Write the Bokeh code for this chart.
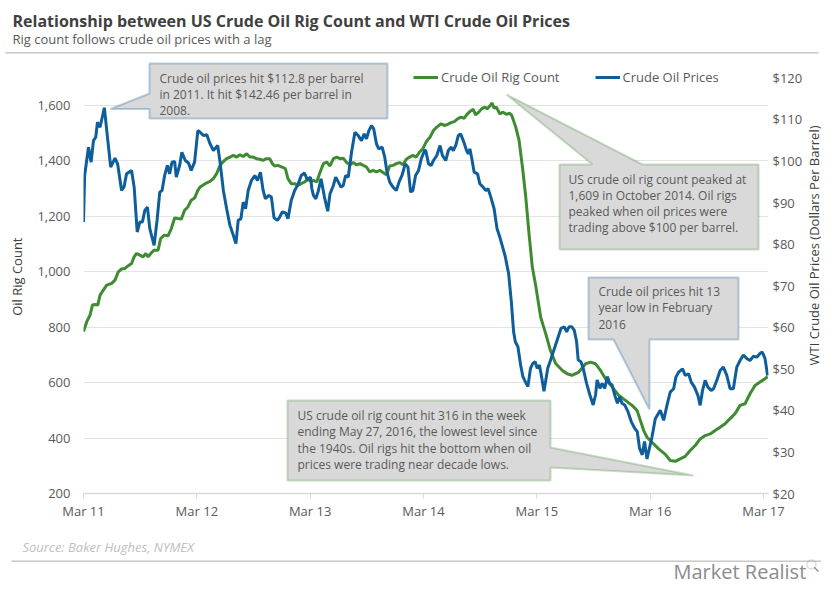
import math
from bokeh.plotting import figure
from bokeh.layouts import column, row
from bokeh.models import (Range1d, LinearAxis, FixedTicker, NumeralTickFormatter,
                          Label, PolyAnnotation, Legend, LegendItem)
from bokeh.embed import file_html
from bokeh.resources import INLINE

# ---------------- data ----------------
# x = years since March 2011
x_tick_values = [0, 1, 2, 3, 4, 5, 6]
x_tick_labels = ["Mar 11", "Mar 12", "Mar 13", "Mar 14", "Mar 15", "Mar 16", "Mar 17"]
rig_ticks = [200, 400, 600, 800, 1000, 1200, 1400, 1600]
price_ticks = [20, 30, 40, 50, 60, 70, 80, 90, 100, 110, 120]

rig_t = [0.000, 0.029, 0.058, 0.079, 0.100, 0.126, 0.146, 0.175, 0.205, 0.249, 0.278, 0.307,
         0.336, 0.365, 0.395, 0.424, 0.447, 0.468, 0.497, 0.526, 0.550, 0.570, 0.594, 0.623,
         0.658, 0.681, 0.711, 0.746, 0.775, 0.804, 0.833, 0.863, 0.892, 0.921, 0.950, 0.980,
         1.009, 1.029, 1.073, 1.117, 1.146, 1.175, 1.205, 1.234, 1.263, 1.292, 1.322, 1.351,
         1.380, 1.409, 1.439, 1.468, 1.497, 1.526, 1.556, 1.585, 1.614, 1.643, 1.667, 1.687,
         1.716, 1.751, 1.781, 1.804, 1.833, 1.863, 1.892, 1.921, 1.950, 1.980, 2.009, 2.029,
         2.058, 2.088, 2.117, 2.146, 2.175, 2.205, 2.234, 2.263, 2.292, 2.322, 2.351, 2.380,
         2.409, 2.439, 2.468, 2.497, 2.526, 2.556, 2.585, 2.614, 2.643, 2.673, 2.702, 2.731,
         2.760, 2.789, 2.819, 2.848, 2.877, 2.906, 2.936, 2.965, 2.994, 3.023, 3.044, 3.058,
         3.088, 3.117, 3.155, 3.184, 3.213, 3.243, 3.272, 3.301, 3.330, 3.360, 3.380, 3.409,
         3.439, 3.459, 3.488, 3.512, 3.541, 3.561, 3.585, 3.605, 3.623, 3.643, 3.673, 3.702,
         3.731, 3.760, 3.778, 3.814, 3.843, 3.873, 3.902, 3.931, 3.960, 3.990, 4.034, 4.078,
         4.120, 4.166, 4.225, 4.268, 4.310, 4.370, 4.430, 4.474, 4.518, 4.562, 4.606, 4.665,
         4.723, 4.782, 4.840, 4.884, 4.913, 4.943, 4.972, 5.016, 5.075, 5.134, 5.177, 5.221,
         5.265, 5.309, 5.353, 5.397, 5.441, 5.485, 5.530, 5.573, 5.617, 5.661, 5.705, 5.749,
         5.793, 5.837, 5.881, 5.925, 5.969, 6.013, 6.036]
rig_count = [784, 820, 844, 880, 882, 880, 916, 934, 952, 958, 970, 1000,
             1010, 1012, 1022, 1030, 1054, 1066, 1060, 1054, 1066, 1054, 1066, 1078,
             1078, 1120, 1132, 1130, 1156, 1194, 1192, 1190, 1222, 1234, 1258, 1266,
             1294, 1306, 1318, 1326, 1336, 1354, 1384, 1398, 1408, 1414, 1420, 1414,
             1422, 1416, 1426, 1414, 1414, 1408, 1406, 1402, 1408, 1408, 1390, 1382,
             1384, 1378, 1372, 1336, 1318, 1318, 1312, 1318, 1324, 1334, 1326, 1330,
             1324, 1360, 1390, 1396, 1382, 1408, 1414, 1408, 1410, 1394, 1386, 1394,
             1386, 1390, 1384, 1378, 1360, 1366, 1360, 1366, 1358, 1350, 1382, 1384,
             1390, 1394, 1386, 1406, 1414, 1420, 1414, 1432, 1444, 1468, 1480, 1486,
             1510, 1522, 1534, 1528, 1532, 1538, 1542, 1552, 1558, 1554, 1566, 1578,
             1586, 1566, 1576, 1588, 1594, 1588, 1598, 1609, 1590, 1594, 1570, 1576,
             1568, 1572, 1565, 1522, 1474, 1378, 1270, 1138, 1017, 950, 836, 777,
             716, 669, 644, 632, 626, 638, 668, 674, 668, 644, 614, 584,
             554, 536, 518, 500, 464, 427, 403, 385, 361, 341, 319, 316,
             325, 334, 355, 373, 397, 409, 415, 427, 439, 452, 470, 488,
             518, 524, 560, 590, 602, 614, 622]

price_t = [0.000, 0.010, 0.044, 0.067, 0.088, 0.108, 0.123, 0.146, 0.184, 0.213, 0.240, 0.278,
           0.301, 0.336, 0.357, 0.380, 0.424, 0.447, 0.474, 0.497, 0.520, 0.541, 0.564, 0.585,
           0.623, 0.649, 0.673, 0.693, 0.716, 0.740, 0.760, 0.781, 0.804, 0.819, 0.848, 0.868,
           0.898, 0.927, 0.950, 0.980, 1.009, 1.029, 1.058, 1.088, 1.117, 1.146, 1.184, 1.205,
           1.234, 1.263, 1.292, 1.322, 1.345, 1.365, 1.389, 1.409, 1.430, 1.453, 1.482, 1.512,
           1.535, 1.561, 1.585, 1.605, 1.635, 1.658, 1.681, 1.711, 1.731, 1.754, 1.784, 1.804,
           1.833, 1.863, 1.892, 1.921, 1.950, 1.974, 2.003, 2.015, 2.029, 2.050, 2.073, 2.096,
           2.126, 2.155, 2.175, 2.205, 2.225, 2.249, 2.272, 2.292, 2.313, 2.336, 2.365, 2.395,
           2.424, 2.453, 2.477, 2.497, 2.518, 2.541, 2.561, 2.585, 2.605, 2.635, 2.658, 2.678,
           2.702, 2.731, 2.760, 2.784, 2.810, 2.839, 2.863, 2.886, 2.906, 2.930, 2.956, 2.980,
           3.009, 3.020, 3.044, 3.067, 3.088, 3.117, 3.146, 3.167, 3.196, 3.219, 3.243, 3.263,
           3.284, 3.307, 3.327, 3.351, 3.380, 3.395, 3.409, 3.424, 3.447, 3.477, 3.497, 3.526,
           3.550, 3.570, 3.594, 3.623, 3.649, 3.673, 3.702, 3.722, 3.751, 3.775, 3.795, 3.810,
           3.833, 3.857, 3.877, 3.898, 3.921, 3.944, 3.965, 3.985, 4.003, 4.023, 4.044, 4.063,
           4.096, 4.126, 4.155, 4.184, 4.213, 4.243, 4.263, 4.284, 4.307, 4.330, 4.351, 4.365,
           4.389, 4.409, 4.439, 4.468, 4.497, 4.518, 4.532, 4.556, 4.576, 4.599, 4.623, 4.643,
           4.664, 4.687, 4.711, 4.731, 4.751, 4.775, 4.804, 4.833, 4.863, 4.886, 4.906, 4.930,
           4.950, 4.972, 5.016, 5.045, 5.089, 5.119, 5.148, 5.177, 5.207, 5.227, 5.251, 5.286,
           5.309, 5.339, 5.362, 5.391, 5.421, 5.441, 5.462, 5.485, 5.509, 5.538, 5.559, 5.588,
           5.617, 5.646, 5.676, 5.705, 5.734, 5.764, 5.793, 5.822, 5.852, 5.881, 5.910, 5.940,
           5.969, 5.989, 6.013, 6.036]
oil_price = [85.3, 96.5, 103.3, 99.7, 104.9, 105.7, 109.3, 108.1, 112.8, 105.3, 98.5, 100.7,
             99.3, 92.9, 93.7, 96.9, 97.7, 93.7, 82.9, 85.3, 85.3, 88.1, 88.9, 83.7,
             79.7, 85.7, 92.5, 92.9, 96.5, 98.9, 96.9, 99.7, 99.9, 96.1, 98.9, 102.1,
             100.1, 99.5, 97.7, 99.7, 107.3, 106.9, 106.1, 106.3, 104.1, 102.5, 103.7, 99.7,
             92.9, 88.5, 84.5, 82.1, 80.1, 85.7, 86.1, 90.1, 88.5, 92.9, 95.3, 96.5,
             95.3, 97.3, 92.9, 90.9, 91.7, 91.3, 86.3, 85.7, 86.5, 87.7, 87.5, 86.1,
             90.5, 92.9, 94.3, 96.5, 97.1, 95.5, 96.1, 93.3, 91.7, 90.9, 92.9, 95.7,
             91.3, 87.9, 92.1, 94.1, 96.1, 94.9, 93.7, 94.1, 96.5, 96.1, 102.1, 106.9,
             106.1, 104.9, 106.5, 105.3, 107.3, 108.5, 107.7, 104.1, 102.9, 103.3, 100.9, 97.3,
             94.9, 93.7, 92.9, 94.9, 96.5, 99.3, 98.5, 92.5, 92.9, 96.5, 97.7, 100.5,
             102.5, 102.5, 99.3, 98.9, 100.1, 101.3, 103.7, 101.3, 100.1, 102.5, 103.3, 102.5,
             103.7, 106.1, 106.5, 104.9, 102.5, 101.7, 102.9, 100.9, 97.3, 96.9, 94.5, 93.7,
             92.9, 93.3, 91.3, 88.5, 83.7, 81.7, 78.9, 76.9, 72.9, 66.1, 58.9, 56.5,
             55.3, 50.9, 48.1, 46.9, 45.7, 50.1, 51.3, 51.7, 50.1, 50.9, 47.7, 44.6,
             50.1, 52.5, 54.9, 57.3, 59.7, 60.1, 58.9, 60.1, 60.1, 59.3, 56.5, 52.1,
             51.7, 50.1, 46.5, 43.7, 41.3, 43.7, 47.3, 45.3, 46.5, 45.3, 48.1, 46.5,
             46.1, 43.7, 41.7, 43.3, 41.7, 41.3, 39.7, 37.3, 35.7, 34.9, 30.9, 29.3,
             32.5, 28.3, 33.6, 38.0, 40.0, 37.6, 41.2, 44.4, 45.2, 48.0, 49.2, 50.0,
             48.4, 48.8, 46.8, 45.6, 43.6, 41.2, 44.8, 47.2, 45.6, 44.8, 45.2, 47.2,
             49.6, 50.4, 48.4, 45.2, 45.2, 50.4, 52.0, 53.3, 52.5, 52.0, 53.0, 52.8,
             53.7, 54.0, 52.5, 48.4]

# ---------------- styling ----------------
FONT = "Open Sans"
GREEN = "#3f8b32"
BLUE = "#0d5e9b"
BOX_BLUE = "#1c5f9c"
BOX_GREEN = "#4c9640"
BOX_FILL = "#d9d9d9"
TXT = "#595959"
DARK = "#404040"
SEP = "#c8c8c8"
LOGO = "#8c8c8c"
TEXT_DY = 3.5        # alphabetic-baseline correction (page px)

W = 821
HEAD_H = 56          # page y 0..56
MAIN_H = 477         # page y 56..533
FOOT_H = 584 - HEAD_H - MAIN_H
SIDE_W = 16
MAIN_W = W - SIDE_W

# main frame: page x 83..770, y 56..493
FL, FR, FT, FB = 83, 770, 56, 493
PX_PER_RIG = 388.0 / 1400.0
rig_top = 200 + (FB - FT) / PX_PER_RIG
price_top = 20 + (rig_top - 200) / 15.0


def blank(width, height):
    f = figure(width=width, height=height, output_backend="svg", toolbar_location=None,
               title=None, x_axis_location=None, y_axis_location=None,
               x_range=Range1d(0, 1), y_range=Range1d(0, 1),
               min_border=0, min_border_left=0, min_border_right=0,
               min_border_top=0, min_border_bottom=0)
    f.outline_line_color = None
    f.xgrid.visible = False
    f.ygrid.visible = False
    return f


def add_text(fig, x, y, s, size="12px", color=TXT, style="normal", align="left",
             baseline="alphabetic", angle=0):
    if baseline == "alphabetic":
        y = y + TEXT_DY
    fig.add_layout(Label(x=x, y=y, x_units="screen", y_units="screen", text=s,
                         text_font=FONT, text_font_size=size, text_color=color,
                         text_font_style=style, text_align=align,
                         text_baseline=baseline, angle=angle, angle_units="deg"))


def add_poly(fig, xs, ys, fill, line, lw=2, fill_alpha=1):
    fig.add_layout(PolyAnnotation(xs=xs, ys=ys, xs_units="screen", ys_units="screen",
                                  fill_color=fill, fill_alpha=fill_alpha, line_color=line,
                                  line_width=lw))


# ---------------- header ----------------
head = blank(W, HEAD_H)
add_text(head, 12, HEAD_H - 23.5,
         "Relationship between US Crude Oil Rig Count and WTI Crude Oil Prices",
         size="16px", color=DARK, style="bold")
add_text(head, 12, HEAD_H - 42, "Rig count follows crude oil prices with a lag",
         size="13px", color=TXT)
add_poly(head, [5, 818, 818, 5], [HEAD_H - 51.5, HEAD_H - 51.5, HEAD_H - 53, HEAD_H - 53],
         SEP, None, 0)

# ---------------- main chart ----------------
p = figure(width=MAIN_W, height=MAIN_H, output_backend="svg", toolbar_location=None,
           title=None, x_range=Range1d(0, 6.044), y_range=Range1d(200, rig_top),
           min_border_left=FL, min_border_right=MAIN_W - FR, min_border_top=0,
           min_border_bottom=MAIN_H - (FB - FT))
p.extra_y_ranges = {"price": Range1d(20, price_top)}
p.outline_line_color = None


def sx(X):
    return X - FL


def sy(Y):
    return FB - Y


xa = p.xaxis[0]
xa.ticker = FixedTicker(ticks=x_tick_values)
xa.major_label_overrides = {v: lab for v, lab in zip(x_tick_values, x_tick_labels)}
xa.axis_line_color = "#d9d9d9"
xa.axis_line_width = 1.5
xa.major_tick_line_color = "#d9d9d9"
xa.major_tick_in = 0
xa.major_tick_out = 5
xa.minor_tick_line_color = None
xa.minor_tick_out = 0
xa.major_label_text_font = FONT
xa.major_label_text_font_size = "13px"
xa.major_label_text_color = TXT
xa.major_label_standoff = 3

ya = p.yaxis[0]
ya.ticker = FixedTicker(ticks=rig_ticks)
ya.formatter = NumeralTickFormatter(format="0,0")
ya.axis_line_color = None
ya.major_tick_line_color = None
ya.minor_tick_line_color = None
ya.major_tick_in = 0
ya.major_tick_out = 0
ya.minor_tick_out = 0
ya.major_label_text_font = FONT
ya.major_label_text_font_size = "13px"
ya.major_label_text_color = TXT
ya.major_label_standoff = 13
ya.axis_label = "Oil  Rig Count"
ya.axis_label_text_font = FONT
ya.axis_label_text_font_size = "13px"
ya.axis_label_text_font_style = "normal"
ya.axis_label_text_color = DARK
ya.axis_label_standoff = 8

ra = LinearAxis(y_range_name="price", ticker=FixedTicker(ticks=price_ticks),
                formatter=NumeralTickFormatter(format="$0"))
ra.axis_line_color = None
ra.major_tick_line_color = None
ra.minor_tick_line_color = None
ra.major_tick_in = 0
ra.major_tick_out = 0
ra.minor_tick_out = 0
ra.major_label_text_font = FONT
ra.major_label_text_font_size = "13px"
ra.major_label_text_color = TXT
ra.major_label_standoff = 4
p.add_layout(ra, "right")

p.xgrid.grid_line_color = None
p.ygrid.ticker = FixedTicker(ticks=rig_ticks)
p.ygrid.grid_line_color = "#e3e3e3"
p.ygrid.grid_line_width = 1.2

g = p.line(rig_t, rig_count, line_color=GREEN, line_width=3)
b = p.line(price_t, oil_price, y_range_name="price", line_color=BLUE, line_width=3)

legend = Legend(items=[LegendItem(label="Crude Oil Rig Count", renderers=[g]),
                       LegendItem(label="Crude Oil Prices", renderers=[b])],
                location=(sx(413), sy(86)), orientation="horizontal",
                glyph_width=25, glyph_height=16, label_height=16, label_standoff=3,
                spacing=35, padding=0, margin=0,
                background_fill_alpha=0, border_line_color=None,
                label_text_font=FONT, label_text_font_size="13px", label_text_color=TXT)
p.add_layout(legend)


def callout(pts, line_color, lines, x0, y0, dy):
    add_poly(p, [sx(a) for a, _ in pts], [sy(c) for _, c in pts], BOX_FILL, line_color)
    for i, s in enumerate(lines):
        add_text(p, sx(x0), sy(y0 + dy * i), s)


callout([(149, 63), (387, 63), (387, 118), (149, 118), (149, 108.5), (110, 108.5), (149, 93)],
        BOX_BLUE, ["Crude oil prices hit $112.8 per barrel",
                   "in 2011. It hit $142.46 per barrel in", "2008."], 159, 81, 16.4)
callout([(559, 164), (592, 164), (506, 94), (642, 164), (758, 164), (758, 249), (559, 249)],
        BOX_GREEN, ["US crude oil rig count peaked at", "1,609 in October 2014.  Oil rigs",
                    "peaked when oil prices were", "trading above $100 per barrel."],
        568, 182, 16.2)
callout([(588, 277), (738, 277), (738, 339), (649, 339), (649, 409), (613, 339), (588, 339)],
        BOX_BLUE, ["Crude oil prices hit 13", "year low in February", "2016"],
        598, 294.5, 16.3)
callout([(287, 400), (550, 400), (550, 447), (693, 475), (550, 467), (550, 480), (287, 480)],
        BOX_GREEN, ["US crude oil rig count hit 316 in the week",
                    "ending May 27, 2016, the lowest level since",
                    "the 1940s. Oil rigs hit the bottom when oil",
                    "prices were trading near decade lows."], 297, 418.5, 16.3)

# ---------------- right axis title ----------------
side = blank(SIDE_W, MAIN_H)
add_text(side, SIDE_W / 2.0, (FT + MAIN_H) - 285, "WTI Crude Oil Prices (Dollars Per Barrel)",
         size="13px", color=DARK, align="center", baseline="middle", angle=90)

# ---------------- footer ----------------
foot = blank(W, FOOT_H)
add_text(foot, 22, 584 - 550, "Source: Baker Hughes, NYMEX", size="13px", color="#c0c0c0",
         style="italic")
add_poly(foot, [11, 821, 821, 11], [584 - 560, 584 - 560, 584 - 561.5, 584 - 561.5],
         SEP, None, 0)
add_text(foot, 673, 584 - 574, "Market Realist", size="20px", color=LOGO)
# small magnifier mark of the logo
cx, cy, r = 811, 584 - 564, 4.5
angles = [2 * math.pi * k / 24 for k in range(24)]
add_poly(foot, [cx + r * math.cos(a) for a in angles], [cy + r * math.sin(a) for a in angles],
         None, LOGO, 1.3, 0)
add_poly(foot, [cx + 3.2, cx + 7.5, cx + 6.5, cx + 2.2],
         [cy - 2.2, cy - 6.5, cy - 7.5, cy - 3.2], LOGO, None, 0)

layout = column(head, row(p, side), foot)
open("out.html", "w").write(file_html(layout, INLINE))
